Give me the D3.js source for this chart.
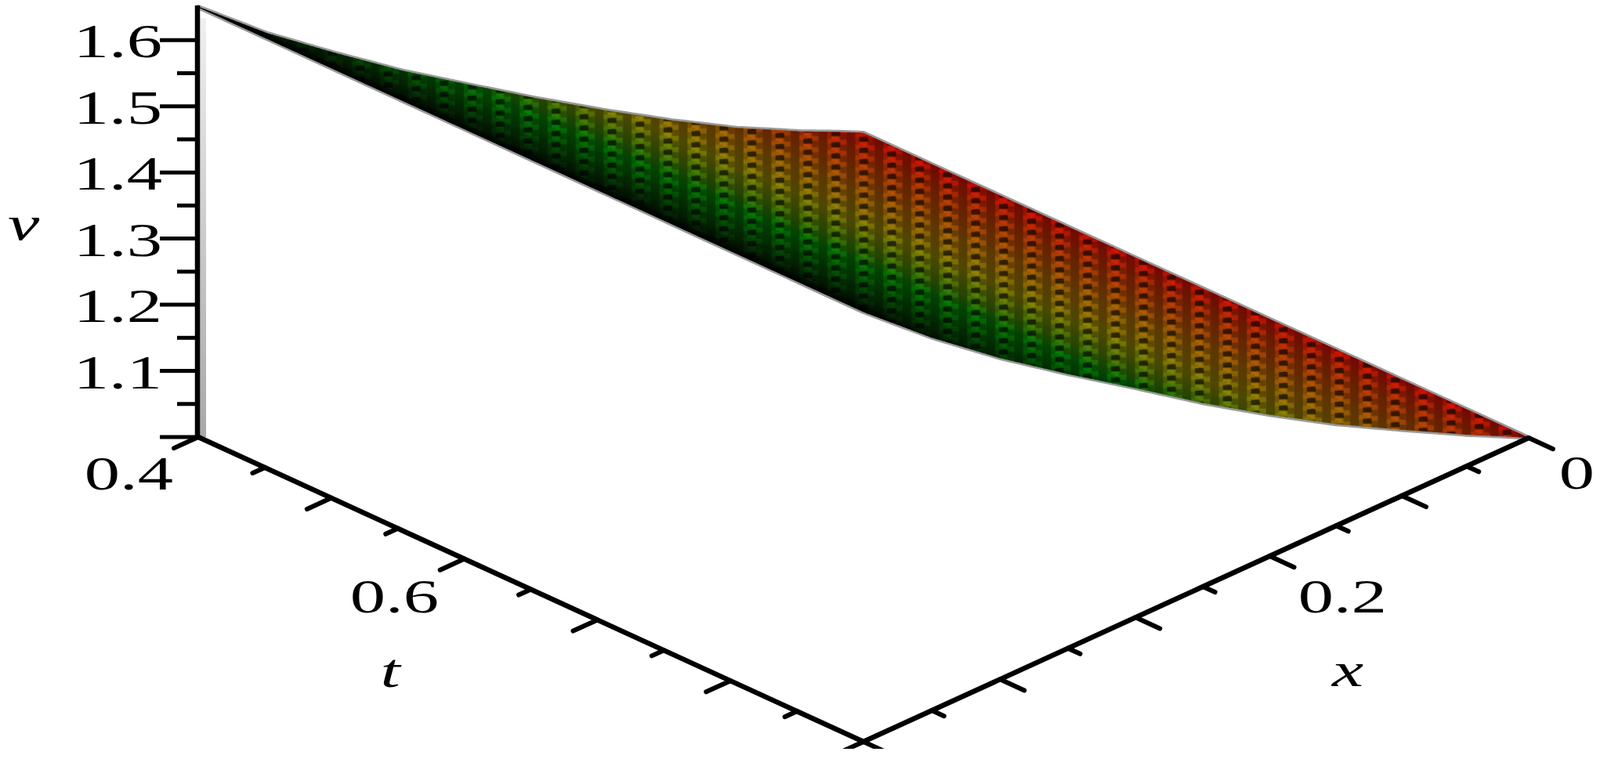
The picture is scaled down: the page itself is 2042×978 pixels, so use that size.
<!DOCTYPE html>
<html>
<head>
<meta charset="utf-8">
<style>
html,body{margin:0;padding:0;background:#fff;overflow:hidden}
svg{display:block}
text{font-family:"Liberation Serif",serif;fill:#000}
</style>
<script src="https://cdn.jsdelivr.net/npm/d3@7"></script>
</head>
<body>
<svg id="chart" width="2042" height="978"></svg>
<script>
// ---- data ----
const xValues   = [0, 0.05, 0.10, 0.15, 0.20, 0.25, 0.30, 0.35, 0.40, 0.45, 0.50];
const tValues   = [0.4, 0.9];
const vAtEarlyT = [1.000, 1.045, 1.095, 1.152, 1.213, 1.277, 1.344, 1.412, 1.486, 1.563, 1.650];
const vAtLateT  = [1.000, 1.048, 1.100, 1.154, 1.214, 1.278, 1.347, 1.415, 1.486, 1.564, 1.650];

const vTicks = [1.0,1.05,1.1,1.15,1.2,1.25,1.3,1.35,1.4,1.45,1.5,1.55,1.6];
const tTicks = [0.4,0.45,0.5,0.55,0.6,0.65,0.7,0.75,0.8,0.85,0.9];
const xTicks = [0,0.05,0.1,0.15,0.2,0.25,0.3,0.35,0.4,0.45,0.5];
const vLabels = ["1.1","1.2","1.3","1.4","1.5","1.6"];
const tLabels = ["0.4","0.6"];
const xLabels = ["0","0.2"];
const colorValues = [1.0, 1.04, 1.12, 1.2, 1.28, 1.35, 1.45, 1.57, 1.65];
const colorStops  = ["#9c0800","#8c2400","#7c4a00","#666000","#325a00","#005800","#003400","#000f00","#000404"];

// ---- scales ----
const W = 2042, H = 978;
const svg = d3.select("#chart");
const defs = svg.append("defs");

const cornerA = [253, 558], cornerB = [1102, 947], cornerR = [1951, 559];
const xFrac = d3.scalePow().exponent(1.03).domain([0, 0.5]).range([0, 1]);
const tFrac = d3.scaleLinear().domain([0.4, 0.9]).range([0, 1]);
const vPix  = d3.scaleLinear().domain([1, 1.65]).range([0, 549]);
const colorOf = d3.scaleLinear().domain(colorValues).range(colorStops).clamp(true);
const vEarly = d3.scaleLinear().domain(xValues).range(vAtEarlyT);
const vLate  = d3.scaleLinear().domain(xValues).range(vAtLateT);
const vAt = (x, t) => d3.interpolateNumber(vEarly(x), vLate(x))(tFrac(t));

// fractions of the x and t axes, height in v -> screen
function place(f, g, v) {
  const px = cornerR[0] + f * (cornerB[0] - cornerR[0]) + (g - 1) * (cornerB[0] - cornerA[0]);
  const py = cornerR[1] + f * (cornerB[1] - cornerR[1]) + (g - 1) * (cornerB[1] - cornerA[1]);
  return [px, py - vPix(v)];
}
const project = (x, t, v) => place(xFrac(x), tFrac(t), v);

// ---- surface ----
const subX = d3.range(0, 121).map(i => 0.5 * i / 120);
const subT = d3.range(0, 9).map(i => 0.4 + 0.5 * i / 8);
const cells = [];
subX.slice(1).forEach((x1, i) => {
  const x0 = subX[i];
  subT.slice(1).forEach((t1, j) => {
    const t0 = subT[j];
    cells.push({x0, x1, t0, t1});
  });
});
const outline = [];
subX.forEach(x => outline.push(project(x, 0.4, vAt(x, 0.4))));
subT.forEach(t => outline.push(project(0.5, t, vAt(0.5, t))));
subX.slice().reverse().forEach(x => outline.push(project(x, 0.9, vAt(x, 0.9))));
subT.slice().reverse().forEach(t => outline.push(project(0, t, vAt(0, t))));
const outlinePath = d3.line()(outline) + "Z";

const surface = svg.append("g").attr("class", "surface");
surface.append("path").attr("d", outlinePath)
  .attr("fill", "none").attr("stroke", "#9a9a9a").attr("stroke-width", 6).attr("stroke-linejoin", "round");

surface.selectAll("path.cell").data(cells).join("path")
  .attr("class", "cell")
  .attr("d", c => d3.line()([
    project(c.x0, c.t0, vAt(c.x0, c.t0)),
    project(c.x1, c.t0, vAt(c.x1, c.t0)),
    project(c.x1, c.t1, vAt(c.x1, c.t1)),
    project(c.x0, c.t1, vAt(c.x0, c.t1))]) + "Z")
  .attr("fill", c => colorOf(vAt((c.x0 + c.x1) / 2, (c.t0 + c.t1) / 2)))
  .attr("stroke", c => colorOf(vAt((c.x0 + c.x1) / 2, (c.t0 + c.t1) / 2)))
  .attr("stroke-width", 0.8);

// mesh texture: screen-aligned stripes and dashes of the low-resolution render
const stripeW = 35.7, rowH = 14.3, cellW = 11.2, cellH = 7.15;
const columnShift = [0, 4.7, 9.5, 2.4, 7.1];
const tileW = stripeW * columnShift.length;
const dark = defs.append("pattern").attr("id", "meshDark").attr("patternUnits", "userSpaceOnUse")
  .attr("x", 9.5).attr("y", 3).attr("width", tileW).attr("height", rowH);
const bright = defs.append("pattern").attr("id", "meshBright").attr("patternUnits", "userSpaceOnUse")
  .attr("x", 9.5).attr("y", 3).attr("width", tileW).attr("height", rowH);
function wrapRect(p, x, y, w, h, fill) {
  [y, y - rowH].forEach(yy => p.append("rect").attr("x", x).attr("y", yy).attr("width", w).attr("height", h).attr("fill", fill));
}
columnShift.forEach((shift, k) => {
  const x0 = k * stripeW;
  dark.append("rect").attr("x", x0).attr("y", 0).attr("width", cellW).attr("height", rowH).attr("fill", "rgba(0,0,0,.26)");
  wrapRect(dark, x0 + cellW * 1.45, shift, cellW, cellH * 0.85, "rgba(0,0,0,.6)");
  wrapRect(dark, x0 + cellW * 2.3, (shift + 3.5) % rowH, cellW * 0.85, cellH, "rgba(0,0,0,.16)");
  wrapRect(bright, x0 + cellW * 1.45, (shift + cellH) % rowH, cellW, cellH * 0.8, "#444444");
  wrapRect(bright, x0 + cellW * 0.95, (shift + 10) % rowH, cellW * 0.9, cellH * 0.8, "#2c2c2c");
  wrapRect(bright, x0 + cellW * 2.3, (shift + 11) % rowH, cellW * 0.85, cellH * 0.8, "#242424");
});

surface.append("path").attr("d", outlinePath).attr("fill", "url(#meshBright)").style("mix-blend-mode", "color-dodge");
surface.append("path").attr("d", outlinePath).attr("fill", "url(#meshDark)");

// ---- axes ----
const clipId = "floorClip";
defs.append("clipPath").attr("id", clipId).append("rect")
  .attr("x", 0).attr("y", 0).attr("width", W).attr("height", 956);
const axes = svg.append("g").attr("clip-path", `url(#${clipId})`);

const isMajor = (d, step) => Math.abs(d / step - Math.round(d / step)) < 1e-6;

// vertical axis
const vAxisX = cornerA[0];
const vY = v => cornerA[1] - vPix(v);
const shade = defs.append("linearGradient").attr("id", "axisShade").attr("x1", 0).attr("x2", 0).attr("y1", 0).attr("y2", 1);
shade.append("stop").attr("offset", "0").attr("stop-color", "#f0f0f0");
shade.append("stop").attr("offset", "1").attr("stop-color", "#a8a8a8");
axes.append("rect").attr("x", vAxisX + 2).attr("y", vY(1.65) + 14).attr("width", 8)
  .attr("height", vPix(1.65) - 14).attr("fill", "url(#axisShade)");
axes.append("line").attr("x1", vAxisX - 1).attr("x2", vAxisX - 1).attr("y1", vY(1.65) - 2).attr("y2", vY(1))
  .attr("stroke", "#000").attr("stroke-width", 6.5);
axes.selectAll("line.vtick").data(vTicks).join("line")
  .attr("class", "vtick")
  .attr("x1", d => isMajor(d, 0.1) ? vAxisX - 49 : vAxisX - 27)
  .attr("x2", vAxisX).attr("y1", vY).attr("y2", vY)
  .attr("stroke", "#000").attr("stroke-width", 5);

// floor axes
const major = 34, minor = 17;
const unit = (a, b) => { const d = Math.hypot(b[0]-a[0], b[1]-a[1]); return [(b[0]-a[0])/d, (b[1]-a[1])/d]; };
const dirT = unit(cornerR, cornerB);   // ticks on the t axis point along increasing x
const dirX = unit(cornerA, cornerB);   // ticks on the x axis point along increasing t
const floorV = 1;
const axisStyle = s => s.attr("stroke", "#000").attr("stroke-width", 6).attr("stroke-linecap", "round");

axes.append("path")
  .attr("d", d3.line()([project(0.5, 0.4, floorV), project(0.5, 0.9, floorV), project(0, 0.9, floorV)]))
  .attr("fill", "none").attr("stroke", "#000").attr("stroke-width", 6.5).attr("stroke-linejoin", "miter");

axes.selectAll("line.ttick").data(tTicks).join("line")
  .attr("class", "ttick")
  .attr("x1", d => project(0.5, d, floorV)[0])
  .attr("y1", d => project(0.5, d, floorV)[1])
  .attr("x2", d => project(0.5, d, floorV)[0] + dirT[0] * (isMajor(d, 0.1) ? major : minor))
  .attr("y2", d => project(0.5, d, floorV)[1] + dirT[1] * (isMajor(d, 0.1) ? major : minor))
  .call(axisStyle);
axes.selectAll("line.xtick").data(xTicks).join("line")
  .attr("class", "xtick")
  .attr("x1", d => project(d, 0.9, floorV)[0])
  .attr("y1", d => project(d, 0.9, floorV)[1])
  .attr("x2", d => project(d, 0.9, floorV)[0] + dirX[0] * (isMajor(d, 0.1) ? major : minor))
  .attr("y2", d => project(d, 0.9, floorV)[1] + dirX[1] * (isMajor(d, 0.1) ? major : minor))
  .call(axisStyle);

// ---- text ----
const stretch = 1.46;
function label(str, right, baseline, size, italic) {
  svg.append("text")
    .attr("transform", `translate(${right},${baseline}) scale(${stretch},1)`)
    .attr("text-anchor", italic ? "middle" : "end")
    .attr("font-size", size)
    .attr("font-style", italic ? "italic" : "normal")
    .text(str);
}
vLabels.forEach(s => label(s, 207, vY(+s) + 22, 62, false));
const tLabelPos = {"0.4": [221, 625], "0.6": [560, 782]};
tLabels.forEach(s => label(s, tLabelPos[s][0], tLabelPos[s][1], 62, false));
const xLabelPos = {"0": [2035, 624], "0.2": [1770, 782]};
xLabels.forEach(s => label(s, xLabelPos[s][0], xLabelPos[s][1], 62, false));
label("v", 30, 306, 62, true);
label("t", 498, 877, 62, true);
label("x", 1720, 876, 62, true);
</script>
</body>
</html>
